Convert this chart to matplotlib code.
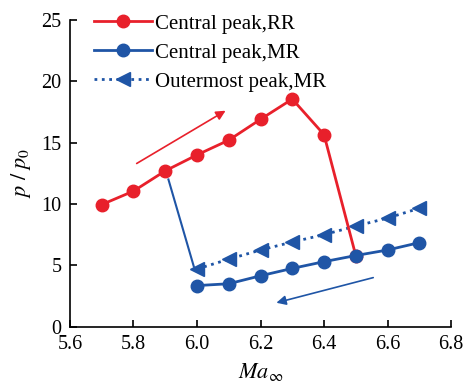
"""Peak pressure ratio vs free-stream Mach number, RR/MR hysteresis."""

import matplotlib
matplotlib.use("Agg")
import matplotlib.pyplot as plt

# data
ma_rr = [5.7, 5.8, 5.9, 6.0, 6.1, 6.2, 6.3, 6.4, 6.5]
p_rr = [9.95, 11.05, 12.7, 14.0, 15.2, 16.9, 18.55, 15.65, 5.8]

ma_mr = [6.0, 6.1, 6.2, 6.3, 6.4, 6.5, 6.6, 6.7]
p_mr_central = [3.35, 3.5, 4.15, 4.75, 5.3, 5.8, 6.25, 6.85]
p_mr_outer = [4.7, 5.5, 6.25, 6.9, 7.5, 8.2, 8.85, 9.65]

# transition line RR -> MR (drawn solid, no markers)
ma_jump = [5.91, 5.99]
p_jump = [12.0, 4.9]

# direction arrows (tail, head)
red_arrow = ((5.81, 13.3), (6.09, 17.6))
blue_arrow = ((6.555, 4.0), (6.25, 1.95))

RED = '#e8202b'
BLUE = '#1f55a6'

plt.rcParams['font.family'] = ['Liberation Serif', 'DejaVu Serif']
plt.rcParams['mathtext.fontset'] = 'stix'
plt.rcParams['font.size'] = 14.5

fig = plt.figure(figsize=(4.71, 3.83), dpi=100)
ax = fig.add_axes([0.1486, 0.147, 0.809, 0.801])

ax.plot(ma_mr, p_mr_outer, linestyle=':', linewidth=2, color=BLUE,
        marker='<', markersize=10, label='Outermost peak,MR', zorder=3)
ax.plot(ma_rr, p_rr, linestyle='-', linewidth=2, color=RED,
        marker='o', markersize=9, label='Central peak,RR', zorder=4)
ax.plot(ma_mr, p_mr_central, linestyle='-', linewidth=2, color=BLUE,
        marker='o', markersize=9, label='Central peak,MR', zorder=5)
ax.plot(ma_jump, p_jump, linestyle='-', linewidth=1.5, color=BLUE, zorder=2)

for (tail, head), col in ((red_arrow, RED), (blue_arrow, BLUE)):
    ax.annotate('', xy=head, xytext=tail,
                arrowprops=dict(arrowstyle='-|>', color=col, lw=1.2,
                                mutation_scale=14, shrinkA=0, shrinkB=0))

ax.set_xlim(5.6, 6.8)
ax.set_ylim(0, 25)
ax.set_xticks([5.6, 5.8, 6.0, 6.2, 6.4, 6.6, 6.8])
ax.set_xticklabels(['5.6', '5.8', '6.0', '6.2', '6.4', '6.6', '6.8'])
ax.set_yticks([0, 5, 10, 15, 20, 25])
ax.tick_params(direction='in', length=5, width=1.2, pad=6)
for side in ('top', 'right'):
    ax.spines[side].set_visible(False)
for side in ('left', 'bottom'):
    ax.spines[side].set_linewidth(1.2)

ax.set_xlabel(r'$Ma_\infty$', fontsize=16, labelpad=5)
ax.set_ylabel(r'$p\ /\ p_0$', fontsize=16, labelpad=6)

handles, labels = ax.get_legend_handles_labels()
order = [1, 2, 0]
ax.legend([handles[i] for i in order], [labels[i] for i in order],
          loc='upper left', bbox_to_anchor=(0.035, 1.053), frameon=False,
          handlelength=2.8, handletextpad=0.12, labelspacing=0.45,
          borderpad=0, fontsize=15)

fig.savefig('out.png', dpi=100)
